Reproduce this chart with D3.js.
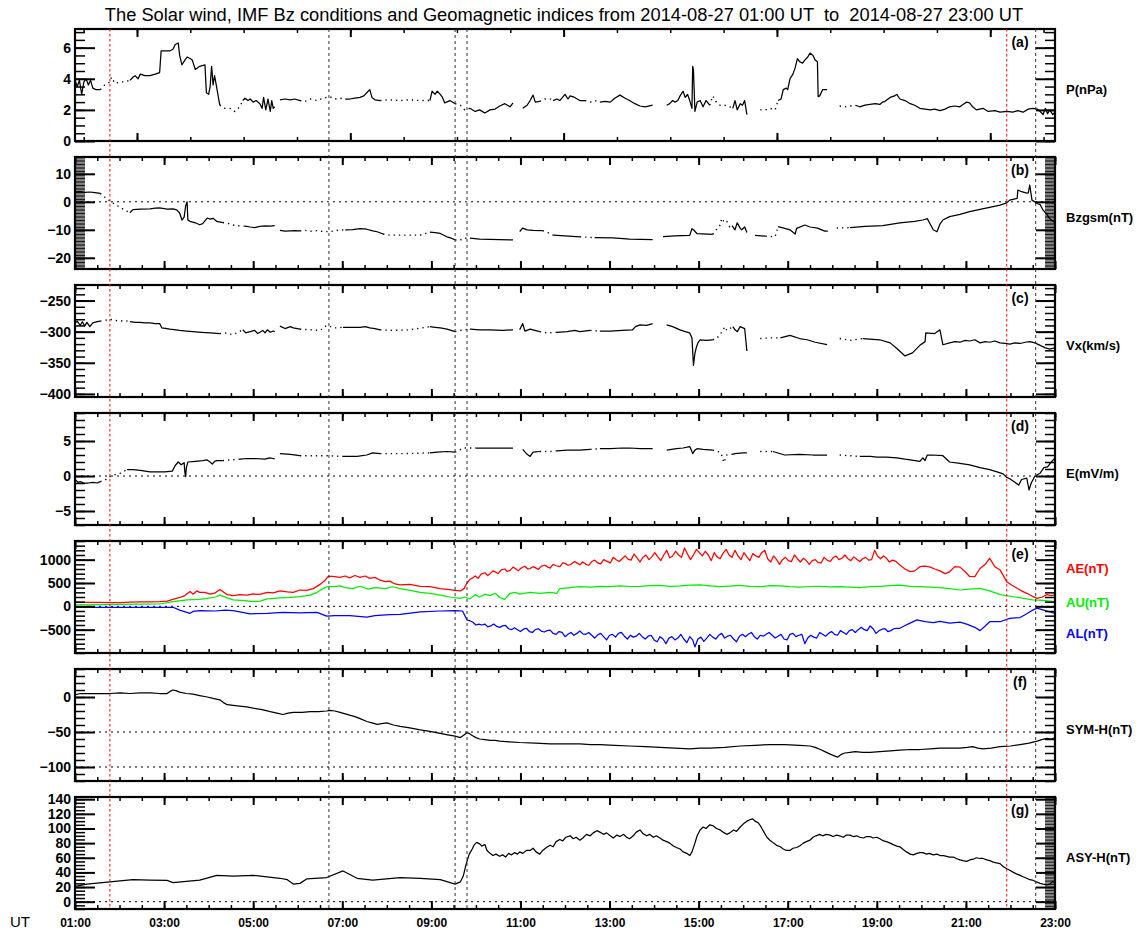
<!DOCTYPE html>
<html>
<head>
<meta charset="utf-8">
<script src="https://cdn.jsdelivr.net/npm/d3@7"></script>
<style>
  body { margin: 0; background: #fff; }
  svg { display: block; }
  text { font-family: "Liberation Sans", Arial, sans-serif; }
</style>
</head>
<body>
<div id="chart"></div>
<script>
// all times are minutes of the day (UT)
// a [t, null] entry marks a data gap

const pressure = [[60,3.9],[63,3.5],[66,3.9],[69,3.0],[72,3.8],[75,4.0],[78,3.6],[81,3.9],[84,3.4],[88,3.3],[94,3.3],[100,3.6],[104,3.7],[107,3.8],[109,4.1],[114,3.7],[121,3.8],[127,3.8],[134,3.9],[138,4.1],[141,4.2],[145,4.0],[148,4.3],[154,4.2],[161,4.2],[168,4.3],[174,4.4],[176,5.8],[184,5.8],[188,5.8],[192,5.9],[195,6.2],[199,6.3],[201,5.5],[204,4.9],[208,5.2],[211,5.4],[215,5.3],[218,5.2],[222,4.6],[228,4.8],[235,4.9],[237,3.1],[240,3.0],[242,3.5],[244,4.8],[246,3.6],[248,4.2],[251,3.4],[255,2.3],[262,2.1],[269,2.1],[275,1.9],[282,2.2],[286,2.6],[289,2.75],[293,2.6],[296,2.7],[300,2.5],[304,2.6],[309,2.4],[312,2.1],[314,2.8],[317,2.0],[320,2.7],[323,1.9],[325,2.6],[327,2.1],[329,2.2],[329.5,null],[336,2.65],[343,2.7],[350,2.65],[356,2.7],[363,2.6],[370,2.55],[377,2.7],[386,2.6],[394,2.75],[403,2.85],[410,2.7],[417,2.75],[424,2.7],[430,2.7],[437,2.75],[444,2.8],[449,2.9],[453,3.1],[457,3.3],[460,2.8],[464,2.65],[471,2.6],[484,2.65],[498,2.6],[511,2.65],[525,2.6],[538,2.6],[541,3.2],[545,3.0],[548,3.2],[552,3.0],[555,2.8],[558,2.45],[565,2.6],[572,2.4],[579,2.3],[585,2.0],[592,2.1],[599,1.9],[605,2.0],[612,1.8],[619,2.0],[626,2.05],[632,2.25],[639,2.4],[646,2.2],[650,2.45],[651,null],[663,2.1],[669,2.3],[673,2.6],[677,2.95],[680,2.5],[686,2.55],[693,2.7],[700,2.7],[704,2.6],[709,2.7],[713,2.6],[720,3.0],[724,2.7],[727,2.9],[733,2.8],[740,2.6],[747,2.6],[754,2.5],[760,2.6],[767,2.5],[774,2.55],[781,2.5],[787,2.75],[794,2.95],[801,2.75],[807,2.6],[814,2.4],[821,2.25],[828,2.2],[838,2.3],[839,null],[857,2.3],[861,2.4],[865,2.6],[868,2.5],[872,2.6],[875,2.9],[879,3.2],[882,2.8],[885,3.0],[888,2.6],[891,2.1],[892,4.8],[893,4.6],[895,1.9],[898,2.5],[902,2.6],[906,2.2],[910,2.6],[915,2.3],[919,2.9],[925,2.4],[929,2.3],[935,2.3],[942,2.2],[946,2.1],[949,2.6],[952,2.0],[956,2.4],[959,2.3],[962,2.6],[965,1.7],[966,null],[983,2.0],[990,2.0],[996,2.1],[1003,2.0],[1007,2.6],[1011,2.7],[1014,3.3],[1018,3.4],[1020,3.3],[1023,4.0],[1027,4.3],[1030,4.7],[1033,5.3],[1036,5.1],[1040,5.0],[1043,5.2],[1047,5.4],[1050,5.65],[1054,5.5],[1057,5.2],[1060,5.1],[1061,2.85],[1063,2.9],[1067,3.3],[1073,3.3],[1074,null],[1090,2.25],[1097,2.2],[1104,2.25],[1111,2.3],[1117,2.2],[1124,2.3],[1131,2.35],[1138,2.4],[1144,2.35],[1148,2.5],[1151,2.55],[1158,2.8],[1164,2.9],[1167,3.0],[1171,2.7],[1178,2.6],[1185,2.4],[1191,2.3],[1198,2.1],[1205,2.05],[1212,2.0],[1218,2.05],[1225,1.95],[1232,2.05],[1238,2.2],[1245,2.25],[1252,2.2],[1256,2.35],[1261,2.5],[1265,2.45],[1269,2.2],[1274,2.0],[1283,2.1],[1290,1.9],[1299,1.95],[1306,1.85],[1315,1.9],[1323,1.85],[1330,1.95],[1337,1.85],[1344,2.05],[1350,2.1],[1356,2.05],[1360,1.9],[1364,1.7],[1367,2.1],[1370,1.75],[1373,2.0],[1377,1.7],[1380,1.85]];

const bz = [[60,3.5],[67,3.6],[73,3.4],[80,3.5],[87,3.3],[94,3.0],[100,1.7],[107,0.3],[114,-1.0],[121,-2.0],[127,-3.0],[134,-3.9],[138,-2.8],[148,-2.6],[161,-2.5],[168,-2.3],[174,-2.2],[184,-2.6],[192,-2.5],[197,-2.9],[201,-4.0],[204,-6.5],[207,-5.5],[209,-1.5],[211,0.0],[212,-6.5],[215,-7.0],[222,-7.5],[228,-8.2],[232,-7.8],[238,-5.8],[242,-6.2],[246,-5.9],[251,-7.0],[259,-7.4],[265,-7.6],[273,-8.3],[282,-8.6],[289,-8.7],[296,-9.0],[302,-9.2],[309,-8.8],[316,-8.6],[323,-8.7],[329,-8.5],[329.5,null],[336,-10.2],[343,-10.5],[350,-10.4],[356,-10.3],[363,-10.4],[370,-10.2],[377,-10.5],[386,-10.3],[394,-10.6],[403,-10.7],[410,-10.3],[417,-10.1],[424,-10.0],[434,-9.9],[444,-9.6],[453,-9.8],[461,-10.4],[467,-10.7],[475,-11.5],[484,-11.9],[498,-11.9],[511,-11.9],[525,-11.9],[538,-10.8],[545,-11.0],[552,-11.3],[561,-12.5],[567,-13.0],[572,-13.6],[579,-13.7],[583,-13.0],[592,-13.0],[605,-13.3],[619,-13.4],[632,-13.5],[650,-13.6],[651,null],[659,-10.6],[663,-9.4],[669,-10.0],[677,-10.2],[690,-10.3],[697,-11.0],[704,-11.9],[720,-12.2],[740,-12.5],[760,-12.8],[785,-12.9],[807,-13.3],[838,-13.5],[839,null],[852,-12.4],[868,-12.2],[888,-12.0],[891,-9.6],[893,-10.0],[898,-11.4],[919,-11.6],[929,-8.3],[931,-5.9],[935,-7.5],[938,-7.0],[942,-9.0],[945,-8.5],[949,-10.0],[952,-7.5],[956,-9.5],[958,-10.0],[962,-9.0],[965,-11.0],[966,null],[976,-12.0],[990,-12.3],[1003,-12.5],[1007,-8.9],[1016,-9.5],[1023,-10.0],[1030,-11.5],[1032,-9.5],[1043,-8.3],[1050,-9.0],[1060,-9.4],[1070,-10.5],[1074,-10.5],[1074.5,null],[1086,-9.4],[1104,-9.2],[1124,-8.8],[1148,-8.5],[1171,-7.5],[1191,-7.0],[1202,-6.5],[1208,-6.0],[1212,-8.0],[1216,-10.0],[1221,-10.7],[1225,-8.0],[1229,-6.5],[1238,-5.3],[1252,-4.5],[1265,-3.5],[1279,-2.7],[1292,-2.0],[1306,-1.2],[1315,-0.4],[1319,0.6],[1329,1.2],[1330,4.2],[1335,3.6],[1342,3.1],[1344,3.2],[1346,6.0],[1349,0.6],[1356,-0.6],[1360,-1.0],[1364,-3.0],[1369,-4.5],[1373,-6.0],[1380,-7.6]];

const vx = [[60,-287],[63,-283],[67,-290],[70,-284],[73,-291],[76,-285],[80,-292],[84,-286],[90,-284],[94,-283],[100,-282],[107,-280],[114,-282],[121,-283],[127,-282],[134,-284],[141,-285],[148,-285],[154,-286],[161,-286],[168,-287],[174,-287],[177,-294],[188,-296],[201,-298],[210,-299],[219,-300],[230,-301],[242,-302],[255,-303],[262,-302],[273,-305],[286,-297],[290,-302],[296,-300],[302,-298],[306,-303],[309,-301],[313,-298],[316,-302],[319,-297],[323,-301],[327,-299],[329,-300],[329.5,null],[336,-291],[343,-295],[350,-292],[354,-294],[363,-296],[377,-297],[390,-298],[399,-290],[410,-294],[421,-293],[432,-293],[444,-293],[451,-292],[457,-294],[464,-295],[471,-297],[488,-298],[511,-297],[538,-292],[545,-293],[552,-294],[561,-296],[572,-300],[583,-297],[592,-296],[605,-297],[619,-297],[636,-298],[650,-297],[651,null],[659,-297],[663,-287],[666,-299],[673,-296],[686,-300],[696,-302],[709,-301],[723,-300],[733,-298],[740,-300],[754,-298],[767,-299],[781,-299],[797,-298],[811,-297],[815,-292],[821,-289],[830,-290],[838,-287],[839,null],[857,-289],[865,-292],[875,-297],[882,-300],[888,-302],[891,-310],[893,-354],[895,-335],[897,-325],[899,-318],[902,-313],[910,-314],[919,-313],[925,-310],[933,-298],[935,-292],[938,-298],[946,-292],[949,-297],[952,-300],[956,-292],[962,-295],[965,-331],[966,null],[983,-311],[996,-310],[1010,-310],[1023,-306],[1036,-311],[1046,-313],[1057,-317],[1073,-321],[1074,null],[1090,-311],[1104,-314],[1121,-311],[1144,-313],[1158,-318],[1167,-327],[1178,-339],[1188,-334],[1198,-322],[1205,-316],[1206,-302],[1218,-303],[1225,-297],[1229,-321],[1238,-318],[1245,-316],[1252,-317],[1259,-314],[1265,-315],[1272,-313],[1279,-318],[1286,-316],[1292,-317],[1299,-315],[1306,-318],[1313,-319],[1319,-320],[1326,-318],[1333,-319],[1340,-317],[1346,-316],[1353,-318],[1360,-322],[1367,-326],[1373,-328],[1380,-326]];

const efield = [[60,-0.5],[64,-0.9],[67,-0.8],[72,-1.0],[78,-1.0],[84,-0.9],[90,-1.0],[94,-0.8],[100,-0.6],[107,-0.1],[114,0.2],[121,0.4],[130,0.9],[138,0.9],[148,0.8],[161,0.6],[174,0.6],[181,0.6],[191,0.7],[195,1.5],[199,2.0],[203,1.6],[207,1.9],[208,0.5],[209,-0.1],[210,1.2],[212,2.0],[222,2.1],[232,2.2],[238,2.3],[242,2.0],[245,1.7],[248,2.1],[251,2.2],[259,2.2],[270,2.3],[282,2.4],[292,2.5],[302,2.5],[316,2.4],[322,2.6],[327,2.5],[329,2.5],[329.5,null],[336,3.2],[350,3.1],[363,2.9],[380,2.9],[399,2.9],[421,2.8],[440,2.8],[453,3.0],[461,3.3],[471,3.2],[505,3.2],[538,3.3],[548,3.4],[561,3.5],[572,3.4],[583,4.0],[600,4.0],[619,4.0],[636,4.0],[650,4.0],[651,null],[663,3.8],[669,3.1],[673,2.8],[677,3.4],[686,3.5],[700,3.5],[709,3.6],[723,3.7],[740,3.7],[754,3.8],[767,3.9],[781,3.9],[797,4.0],[807,4.0],[821,3.9],[838,3.9],[839,null],[857,3.7],[870,3.9],[879,4.0],[888,4.2],[891,3.5],[892,3.2],[895,3.7],[898,3.9],[906,3.8],[919,3.7],[929,3.4],[931,3.0],[934,1.9],[938,3.0],[945,3.1],[949,3.2],[960,3.3],[965,3.3],[966,null],[983,3.5],[1000,3.5],[1016,3.0],[1036,3.1],[1054,3.0],[1073,3.0],[1074,null],[1090,3.0],[1104,2.9],[1117,2.8],[1131,2.8],[1140,2.7],[1153,2.7],[1167,2.6],[1178,2.4],[1185,2.3],[1198,2.1],[1202,2.6],[1205,2.2],[1208,3.0],[1214,3.0],[1229,2.9],[1238,2.0],[1252,1.8],[1265,1.6],[1279,1.2],[1292,0.9],[1302,0.6],[1310,0.3],[1315,-0.2],[1319,-0.4],[1326,-0.9],[1331,-1.3],[1335,-0.5],[1342,-0.3],[1345,-2.0],[1348,-1.0],[1353,0.0],[1360,0.4],[1365,1.2],[1370,1.3],[1375,2.0],[1380,2.6]];

// stretches where the solar wind record is only scattered points
const swSparse = [[94,134],[255,286],[363,424],[471,538],[572,592],[686,706],[747,767],[915,946],[983,1007],[1090,1113]];

const ae = [[60,90],[77,85],[94,85],[107,80],[121,80],[134,90],[148,95],[161,95],[174,100],[184,110],[192,150],[201,190],[208,230],[215,320],[219,260],[224,330],[228,300],[235,300],[242,260],[249,290],[255,360],[259,320],[265,250],[273,230],[282,250],[292,240],[300,265],[309,255],[319,300],[327,290],[336,330],[346,310],[354,300],[363,350],[372,340],[381,380],[390,470],[397,560],[401,640],[407,640],[417,620],[424,650],[430,610],[437,660],[444,620],[451,650],[457,600],[464,620],[471,560],[478,530],[484,540],[491,480],[498,460],[511,470],[525,430],[538,420],[552,380],[565,360],[572,340],[579,330],[584,380],[588,500],[592,580],[596,610],[599,650],[603,600],[607,690],[612,720],[616,660],[619,700],[623,760],[626,740],[630,700],[634,780],[639,800],[642,750],[646,770],[650,840],[653,810],[657,760],[661,820],[666,860],[670,800],[673,810],[677,850],[680,830],[684,790],[688,860],[693,880],[697,840],[700,820],[704,900],[708,870],[713,850],[717,930],[720,920],[724,880],[728,900],[733,960],[737,920],[740,890],[744,950],[748,900],[752,880],[756,960],[760,990],[764,930],[768,910],[772,1000],[776,970],[781,930],[785,1050],[789,1000],[793,960],[797,1020],[801,1080],[805,1010],[809,990],[813,1120],[817,1040],[821,950],[825,1050],[829,1100],[833,1000],[837,1060],[841,1150],[845,1060],[849,980],[853,1100],[857,1200],[861,1040],[865,1080],[869,1180],[873,1100],[877,1050],[881,1250],[885,1120],[889,1000],[893,1100],[897,1220],[901,1150],[905,1080],[909,1180],[913,1100],[917,980],[921,1150],[925,1060],[929,1020],[933,1140],[937,1220],[941,1100],[945,1050],[949,1200],[953,1080],[957,1000],[961,1150],[965,1060],[969,980],[973,1130],[977,1080],[981,1050],[985,1150],[989,1200],[993,1020],[997,950],[1001,1080],[1005,1000],[1009,900],[1013,1000],[1017,1050],[1021,980],[1025,960],[1029,1100],[1033,1020],[1037,950],[1041,1030],[1045,980],[1049,900],[1053,980],[1057,1000],[1061,940],[1065,930],[1069,1050],[1073,990],[1077,960],[1081,1040],[1085,1080],[1089,1000],[1093,1030],[1097,1100],[1101,1020],[1105,980],[1109,1060],[1113,1010],[1117,960],[1121,1020],[1125,1050],[1129,990],[1133,1000],[1137,1200],[1141,1080],[1145,1020],[1149,1080],[1153,1030],[1157,950],[1161,990],[1165,970],[1171,886],[1178,800],[1185,743],[1191,760],[1198,850],[1205,860],[1212,840],[1218,800],[1225,760],[1232,700],[1238,740],[1245,850],[1252,840],[1259,740],[1265,640],[1272,636],[1279,810],[1286,900],[1292,1029],[1299,850],[1306,780],[1315,529],[1322,450],[1329,386],[1335,330],[1342,279],[1349,220],[1356,171],[1363,200],[1369,250],[1375,230],[1380,250]];

const au = [[60,30],[94,35],[121,40],[148,45],[174,50],[192,100],[211,140],[228,150],[238,170],[249,200],[255,240],[265,180],[273,140],[289,120],[300,100],[309,110],[319,160],[336,180],[350,190],[363,210],[377,240],[386,300],[394,380],[401,430],[410,420],[417,440],[424,400],[434,380],[444,430],[455,370],[464,400],[478,380],[488,420],[498,380],[511,340],[525,300],[538,280],[552,240],[565,200],[579,170],[585,200],[592,160],[599,250],[605,200],[612,260],[619,230],[626,280],[632,190],[639,150],[646,280],[653,300],[659,260],[673,300],[686,280],[700,300],[709,280],[713,380],[720,390],[727,400],[740,420],[754,410],[767,430],[781,420],[794,440],[808,425],[821,430],[834,445],[848,450],[861,430],[875,440],[888,455],[902,460],[915,440],[929,420],[942,435],[956,450],[969,430],[983,420],[996,445],[1010,440],[1023,420],[1036,410],[1050,425],[1063,430],[1077,415],[1090,420],[1104,410],[1117,400],[1131,420],[1144,430],[1158,445],[1171,457],[1185,430],[1198,420],[1212,410],[1225,400],[1238,380],[1252,350],[1265,370],[1279,386],[1292,330],[1306,250],[1326,200],[1350,140],[1364,130],[1380,100]];

const al = [[60,-20],[121,-20],[174,-20],[192,-20],[201,-80],[215,-150],[219,-110],[228,-90],[249,-100],[262,-80],[273,-90],[296,-160],[319,-150],[340,-130],[363,-140],[386,-130],[399,-210],[410,-200],[430,-200],[453,-230],[464,-200],[484,-180],[498,-170],[525,-120],[552,-100],[572,-90],[582,-100],[588,-290],[592,-310],[596,-340],[600,-400],[604,-380],[608,-400],[612,-380],[616,-440],[620,-420],[624,-380],[628,-430],[632,-450],[636,-420],[640,-410],[644,-480],[648,-500],[652,-460],[656,-500],[660,-540],[664,-490],[668,-470],[672,-540],[676,-560],[680,-500],[684,-480],[688,-530],[692,-550],[696,-520],[700,-510],[704,-580],[708,-600],[712,-540],[716,-560],[720,-650],[724,-600],[728,-560],[732,-620],[736,-580],[740,-530],[744,-590],[748,-600],[752,-560],[756,-620],[760,-680],[764,-610],[768,-580],[772,-650],[776,-720],[780,-620],[784,-600],[788,-660],[792,-580],[796,-560],[800,-640],[804,-700],[808,-620],[812,-660],[816,-640],[820,-580],[824,-650],[828,-700],[832,-640],[836,-620],[840,-720],[844,-760],[848,-650],[852,-700],[856,-800],[860,-680],[864,-650],[868,-720],[872,-680],[876,-600],[880,-700],[884,-780],[888,-650],[892,-720],[895,-870],[899,-700],[903,-660],[907,-750],[911,-680],[915,-600],[919,-660],[923,-700],[927,-620],[931,-580],[935,-680],[939,-640],[943,-620],[947,-700],[951,-760],[955,-640],[959,-600],[963,-650],[967,-600],[971,-560],[975,-650],[979,-700],[983,-620],[987,-640],[991,-600],[995,-560],[999,-620],[1003,-680],[1007,-640],[1011,-600],[1015,-700],[1019,-720],[1023,-600],[1027,-580],[1031,-650],[1035,-620],[1039,-600],[1043,-800],[1047,-680],[1051,-620],[1055,-660],[1059,-680],[1063,-560],[1067,-600],[1071,-640],[1075,-580],[1079,-540],[1083,-600],[1087,-620],[1091,-520],[1095,-560],[1099,-600],[1103,-520],[1107,-500],[1111,-560],[1115,-500],[1119,-450],[1123,-500],[1127,-520],[1131,-420],[1135,-480],[1139,-580],[1143,-520],[1147,-490],[1151,-480],[1155,-540],[1159,-520],[1163,-480],[1167,-470],[1171,-470],[1182,-380],[1194,-290],[1205,-330],[1216,-350],[1225,-320],[1238,-360],[1252,-340],[1261,-380],[1272,-450],[1279,-520],[1286,-420],[1292,-330],[1306,-330],[1319,-260],[1333,-240],[1342,-160],[1350,-80],[1356,-40],[1367,-90],[1380,-150]];

const symH = [[60,3],[67,5],[80,5],[94,5],[107,5],[121,6],[134,5],[148,6],[161,6],[174,5],[184,5],[188,8],[192,10],[196,9],[201,7],[210,5],[219,4],[228,2],[238,0],[246,-2],[255,-4],[260,-8],[265,-11],[273,-12],[282,-13],[291,-14],[300,-16],[312,-18],[323,-21],[332,-23],[340,-25],[347,-23],[354,-22],[366,-22],[377,-21],[388,-21],[399,-20],[403,-19],[410,-20],[417,-22],[424,-24],[430,-26],[437,-28],[444,-31],[453,-35],[460,-37],[467,-39],[473,-38],[480,-37],[489,-40],[498,-42],[511,-44],[525,-47],[538,-49],[552,-52],[562,-54],[572,-56],[579,-58],[583,-55],[588,-51],[591,-52],[595,-55],[600,-58],[605,-60],[612,-61],[619,-62],[626,-62],[632,-63],[645,-64],[659,-65],[680,-66],[700,-67],[720,-67],[740,-67],[754,-68],[767,-68],[787,-69],[807,-70],[828,-71],[848,-72],[868,-73],[888,-74],[902,-73],[915,-73],[935,-72],[956,-70],[976,-69],[996,-68],[1016,-68],[1036,-69],[1050,-70],[1057,-72],[1064,-75],[1070,-78],[1078,-82],[1087,-86],[1092,-82],[1097,-80],[1104,-79],[1111,-78],[1121,-79],[1131,-79],[1144,-78],[1158,-77],[1171,-76],[1185,-75],[1198,-75],[1212,-74],[1225,-73],[1238,-73],[1252,-73],[1262,-72],[1269,-71],[1276,-73],[1283,-74],[1294,-73],[1306,-71],[1320,-70],[1333,-68],[1345,-66],[1356,-63],[1362,-61],[1369,-59],[1375,-60],[1380,-58]];

const asyH = [[60,21],[76,24],[107,27],[138,30],[161,29.5],[184,29],[192,26],[228,29.5],[251,36],[273,35],[300,36],[336,32],[346,30],[354,24],[363,25],[372,31],[399,33],[421,42],[440,32],[461,29.5],[498,33],[525,32],[552,30],[572,24],[579,27],[583,35],[586,48],[588,55],[591,65],[595,72],[598,78],[601,81],[605,79],[608,76],[612,78],[615,70],[619,66],[623,63],[627,65],[632,62],[636,64],[640,61],[644,66],[648,64],[652,67],[656,65],[659,68],[663,66],[668,70],[673,70],[677,73],[681,68],[686,65],[690,70],[695,74],[700,77],[704,75],[708,82],[713,85],[717,83],[721,88],[727,90],[731,86],[735,88],[740,84],[744,87],[749,92],[754,90],[758,94],[763,97],[767,95],[772,92],[776,94],[781,90],[785,87],[790,91],[794,89],[799,92],[803,88],[807,86],[812,90],[816,95],[821,98],[825,93],[830,90],[834,92],[839,88],[843,90],[848,87],[852,84],[857,82],[861,80],[866,76],[870,74],[875,72],[879,68],[884,66],[888,63],[891,68],[895,80],[898,90],[902,98],[906,102],[910,100],[915,105],[919,104],[924,100],[929,98],[933,95],[938,92],[942,94],[947,98],[951,96],[956,102],[960,106],[965,110],[969,112],[973,113],[976,110],[980,108],[983,104],[988,95],[992,88],[996,84],[1001,80],[1005,77],[1010,75],[1014,72],[1018,70],[1023,70],[1027,73],[1032,74],[1036,76],[1041,80],[1045,82],[1050,84],[1054,88],[1058,90],[1063,92],[1067,90],[1072,92],[1077,91],[1081,89],[1086,91],[1090,90],[1095,88],[1099,91],[1104,91],[1108,89],[1113,90],[1117,88],[1122,87],[1126,89],[1131,89],[1135,87],[1140,88],[1144,86],[1149,83],[1153,82],[1158,80],[1162,78],[1167,76],[1171,75],[1176,71],[1180,68],[1185,65],[1189,64],[1194,66],[1198,67],[1202,67],[1207,65],[1211,66],[1216,64],[1221,65],[1225,63],[1230,63],[1234,62],[1238,61],[1243,61],[1247,59],[1252,57],[1256,56],[1261,55],[1265,57],[1270,58],[1274,60],[1279,59],[1283,59],[1288,57],[1292,56],[1297,54],[1301,53],[1306,52],[1310,48],[1315,45],[1319,43],[1324,40],[1328,38],[1333,36],[1337,34],[1342,32],[1346,30],[1351,29],[1355,27],[1360,25],[1364,24],[1369,23],[1373,24],[1377,28],[1380,26]];

// event markers (minutes UT)
const eventTimes = [107, 402, 572, 588, 1315, 1354];
const eventKinds = ["red", "black", "black", "black", "red", "black"];

const titleText = "The Solar wind, IMF Bz conditions and Geomagnetic indices from 2014-08-27 01:00 UT  to  2014-08-27 23:00 UT";

const panels = [
  { tag: "(a)", series: [pressure], colors: ["#000"], labels: ["P(nPa)"], domain: [0, 7.2], major: [0, 2, 4, 6], minor: 0.5, rminor: 0.5, refs: [], sparse: true },
  { tag: "(b)", series: [bz], colors: ["#000"], labels: ["Bzgsm(nT)"], domain: [-24, 16], major: [-20, -10, 0, 10], minor: 0.5, rminor: 0.5, refs: [0], sparse: true },
  { tag: "(c)", series: [vx], colors: ["#000"], labels: ["Vx(km/s)"], domain: [-405, -225], major: [-400, -350, -300, -250], minor: 10, rminor: 10, refs: [], sparse: true },
  { tag: "(d)", series: [efield], colors: ["#000"], labels: ["E(mV/m)"], domain: [-7, 9], major: [-5, 0, 5], minor: 1, rminor: 1, refs: [0], sparse: true },
  { tag: "(e)", series: [ae, au, al], colors: ["#ff0000", "#00ee00", "#0000ff"], labels: ["AE(nT)", "AU(nT)", "AL(nT)"], domain: [-1000, 1400], major: [-500, 0, 500, 1000], minor: 100, rminor: 100, refs: [0], sparse: false },
  { tag: "(f)", series: [symH], colors: ["#000"], labels: ["SYM-H(nT)"], domain: [-120, 40], major: [-100, -50, 0], minor: 10, rminor: 10, refs: [-50, -100], sparse: false },
  { tag: "(g)", series: [asyH], colors: ["#000"], labels: ["ASY-H(nT)"], domain: [-10, 143], major: [0, 20, 40, 60, 80, 100, 120, 140], minor: 5, rminor: 2, refs: [0], sparse: false }
];

const W = 1140, H = 933;
const X0 = 75, X1 = 1055, TOP0 = 29, PH = 112, STEP = 128;

const svg = d3.select("#chart").append("svg")
  .attr("width", W).attr("height", H);

const x = d3.scaleLinear().domain([60, 1380]).range([X0, X1]);

const pad2 = d3.format("02d");
const hhmm = m => pad2(Math.floor(m / 60)) + ":" + pad2(m % 60);

// title
svg.append("text")
  .attr("x", 564).attr("y", 21)
  .attr("text-anchor", "middle")
  .attr("xml:space", "preserve")
  .style("white-space", "pre")
  .style("font-size", "18.3px")
  .text(titleText);

// split a series into solid / dotted runs (dotted inside sparse stretches)
function runs(data, useSparse) {
  const out = [];
  let cur = null;
  for (let i = 0; i < data.length - 1; i++) {
    const p = data[i], q = data[i + 1];
    if (p[1] == null || q[1] == null) { cur = null; continue; }
    const mid = (p[0] + q[0]) / 2;
    const type = useSparse && swSparse.some(s => mid > s[0] && mid < s[1]) ? "dot" : "solid";
    if (cur && cur.type === type) cur.pts.push(q);
    else { cur = { type: type, pts: [p, q] }; out.push(cur); }
  }
  return out;
}

function stepRange(dom, step) {
  const lo = Math.ceil(dom[0] / step) * step;
  return d3.range(lo, dom[1] + 1e-9, step).map(v => +v.toFixed(6));
}

panels.forEach((p, i) => {
  const top = TOP0 + i * STEP, bot = top + PH;
  const y = d3.scaleLinear().domain(p.domain).range([bot, top]);
  const g = svg.append("g");

  const clipId = "clip" + i;
  g.append("clipPath").attr("id", clipId)
    .append("rect").attr("x", X0).attr("y", top).attr("width", X1 - X0).attr("height", PH);

  // reference dotted lines
  p.refs.forEach(v => {
    g.append("line")
      .attr("x1", X0).attr("x2", X1).attr("y1", y(v)).attr("y2", y(v))
      .attr("stroke", "#000").attr("stroke-width", 1).attr("stroke-dasharray", "2,4");
  });

  // data
  const line = d3.line().x(d => x(d[0])).y(d => y(d[1]));
  const dg = g.append("g").attr("clip-path", "url(#" + clipId + ")");
  p.series.forEach((s, si) => {
    runs(s, p.sparse).forEach(r => {
      dg.append("path")
        .attr("d", line(r.pts))
        .attr("fill", "none")
        .attr("stroke", p.colors[si])
        .attr("stroke-width", r.type === "dot" ? 1.4 : 1.25)
        .attr("stroke-linejoin", "round")
        .attr("stroke-dasharray", r.type === "dot" ? "1.3,4" : null);
    });
  });

  // x ticks (top and bottom, inward)
  let xMajor, xMinor;
  if (i === 0) {
    // the pressure panel has its own odd tick spacing
    const start = 143.5, stp = 71.83;
    xMinor = d3.range(start - stp, 1380, stp);
    xMajor = d3.range(start, 1380, stp * 4);
  } else {
    xMinor = d3.range(60, 1381, 30);
    xMajor = d3.range(60, 1381, 120);
  }
  const addX = (gen, vals, size, ty, sw) => {
    const a = g.append("g").attr("transform", "translate(0," + ty + ")")
      .call(gen(x).tickValues(vals).tickSize(size).tickFormat(""));
    a.select(".domain").remove();
    a.selectAll("line").attr("stroke-width", sw);
  };
  addX(d3.axisTop, xMinor, -4, top, 1.5);
  addX(d3.axisTop, xMajor, -8, top, 2);
  addX(d3.axisBottom, xMinor, -4, bot, 1.5);
  addX(d3.axisBottom, xMajor, -8, bot, 2);

  // y ticks: left with labels, right mirrored
  const addY = (gen, vals, size, tx, sw, fmt) => {
    const a = g.append("g").attr("transform", "translate(" + tx + ",0)")
      .call(gen(y).tickValues(vals).tickSize(size).tickPadding(4).tickFormat(fmt || ""));
    a.select(".domain").remove();
    a.selectAll("line").attr("stroke-width", sw);
    return a;
  };
  const lminor = stepRange(p.domain, p.minor);
  const rminor = stepRange(p.domain, p.rminor);
  const dense = v => v <= (p.domain[1] - p.domain[0]) / 60;
  addY(d3.axisLeft, lminor, -10, X0, dense(p.minor) ? 0.9 : 1.5);
  const la = addY(d3.axisLeft, p.major, -20, X0, 2, d3.format("d"));
  la.selectAll("text")
    .style("font-family", "'Liberation Sans', Arial, sans-serif")
    .style("font-size", "14px").style("font-weight", "bold").attr("fill", "#000");
  addY(d3.axisRight, rminor, -10, X1, dense(p.rminor) ? 0.9 : 1.5);
  addY(d3.axisRight, p.major, -19, X1, 2);

  // frame
  g.append("rect")
    .attr("x", X0).attr("y", top).attr("width", X1 - X0).attr("height", PH)
    .attr("fill", "none").attr("stroke", "#000").attr("stroke-width", 2.2);

  // panel tag
  g.append("text")
    .attr("x", 1020).attr("y", top + 18).attr("text-anchor", "middle")
    .style("font-size", "14px").style("font-weight", "bold")
    .text(p.tag);

  // right-hand labels
  const labelY = p.labels.length === 1 ? [top + 60] : [top + 27, top + 61, top + 92];
  p.labels.forEach((lb, li) => {
    g.append("text")
      .attr("x", 1066).attr("y", labelY[li]).attr("dy", "0.35em")
      .style("font-size", "13px").style("font-weight", "bold")
      .attr("fill", p.colors[li])
      .text(lb);
  });

  // time labels under the last panel
  if (i === panels.length - 1) {
    const xa = g.append("g").attr("transform", "translate(0," + bot + ")")
      .call(d3.axisBottom(x).tickValues(d3.range(60, 1381, 120)).tickSize(0).tickPadding(9).tickFormat(hhmm));
    xa.select(".domain").remove();
    xa.selectAll("text")
      .style("font-family", "'Liberation Sans', Arial, sans-serif")
      .style("font-size", "12px").style("font-weight", "bold").attr("fill", "#000");
    svg.append("text").attr("x", 10).attr("y", 927)
      .style("font-size", "15px").text("UT");
  }
});

// event lines across all panels
const lastBot = TOP0 + (panels.length - 1) * STEP + PH;
svg.append("g").selectAll("line")
  .data(eventTimes)
  .join("line")
  .attr("x1", d => x(d)).attr("x2", d => x(d))
  .attr("y1", TOP0).attr("y2", lastBot)
  .attr("stroke", (d, k) => eventKinds[k] === "red" ? "#ff0000" : "#333")
  .attr("stroke-width", 1)
  .attr("stroke-dasharray", (d, k) => eventKinds[k] === "red" ? "2.5,2.5" : "3,3");
</script>
</body>
</html>
